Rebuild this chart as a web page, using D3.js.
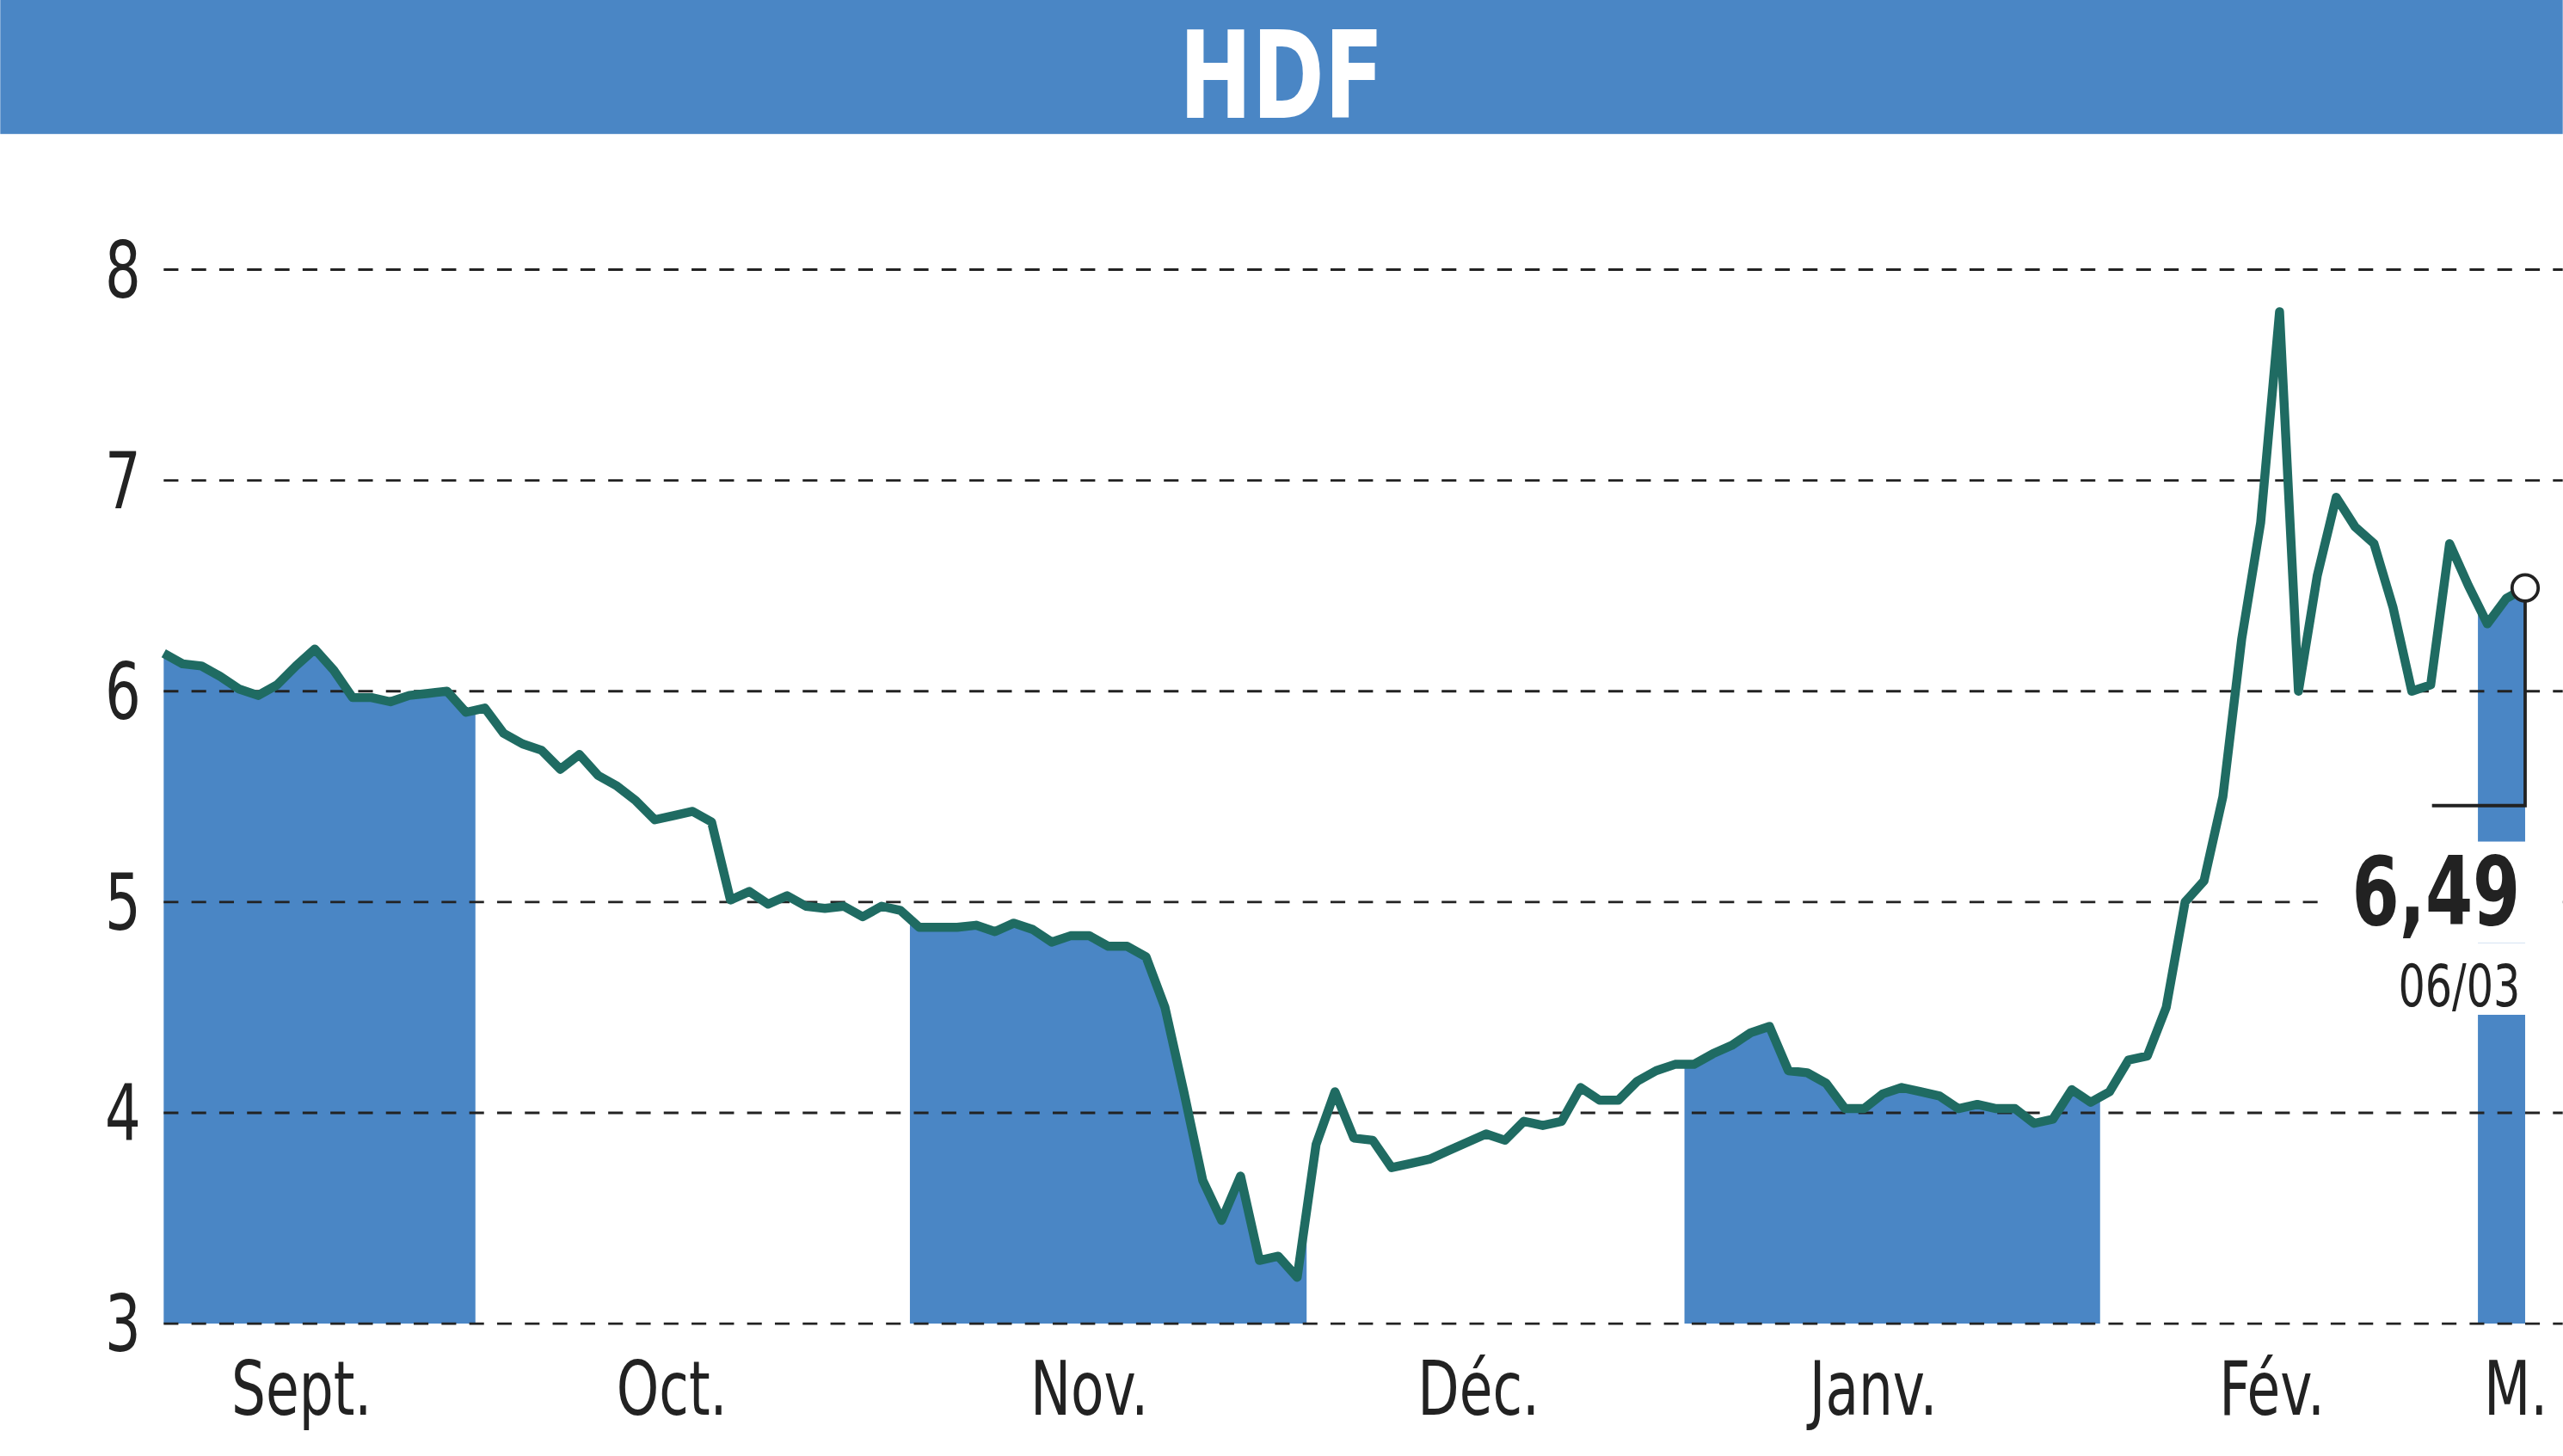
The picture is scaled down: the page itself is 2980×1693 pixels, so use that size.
<!DOCTYPE html>
<html><head><meta charset="utf-8">
<script src="https://cdn.jsdelivr.net/npm/d3@7"></script>
<style>body{margin:0;background:#fff}</style></head>
<body><svg id="c" width="2980" height="1693" viewBox="0 0 1568 891"></svg>
<script>
const title = "HDF";
const prices = [6.18,6.13,6.12,6.07,6.01,5.98,6.03,6.12,6.2,6.1,5.97,5.97,5.95,5.98,5.99,6.0,5.9,
5.92,5.8,5.75,5.72,5.63,5.7,5.6,5.55,5.48,5.39,5.41,5.43,5.38,5.01,5.05,4.99,5.03,4.98,4.97,4.98,4.93,4.98,4.96,
4.88,4.88,4.88,4.89,4.86,4.9,4.87,4.81,4.84,4.84,4.79,4.79,4.74,4.5,4.1,3.68,3.49,3.7,3.3,3.32,3.22,
3.85,4.1,3.88,3.87,3.74,3.76,3.78,3.82,3.86,3.9,3.87,3.96,3.94,3.96,4.12,4.06,4.06,4.15,4.2,4.23,
4.23,4.28,4.32,4.38,4.41,4.2,4.19,4.14,4.02,4.02,4.09,4.12,4.1,4.08,4.02,4.04,4.02,4.02,3.95,3.97,4.11,4.05,
4.1,4.25,4.27,4.5,5.0,5.1,5.5,6.25,6.8,7.8,6.0,6.55,6.92,6.78,6.7,6.4,6.0,6.03,6.7,6.5,6.32,6.44,6.49];
const months = ["Sept.","Oct.","Nov.","Déc.","Janv.","Fév.","M."];
const monthCenters = [7.3,26.9,49,69.6,90.5,111.6,124.5];
const bands = [[0,16.5],[39.5,60.5],[80.5,102.5],[122.5,125]];
const yTicks = [3,4,5,6,7,8];
const lastLabel = "6,49", lastDate = "06/03";

const svg = d3.select("#c");
const F = "'DejaVu Sans Condensed','Liberation Sans Narrow',sans-serif";
const blue = "#4a86c5", green = "#1f6b62";
const n = prices.length;
const x = d3.scaleLinear().domain([0,n-1]).range([100,1545]);
const y = d3.scaleLinear().domain([3,8]).range([810,165]);
const val = t => { const i=Math.floor(t), f=t-i; return i>=n-1?prices[n-1]:prices[i]+(prices[i+1]-prices[i])*f; };
const K = 0.8;
function txt(px,py,s,size,anchor,weight,fill){
  svg.append("text").attr("transform",`translate(${px},${py}) scale(${K},1)`).attr("text-anchor",anchor)
   .attr("font-family",F).attr("font-weight",weight||"normal").attr("font-size",size).attr("fill",fill||"#222").text(s);
}

svg.append("rect").attr("x",0).attr("y",0).attr("width",1568).attr("height",82).attr("fill",blue);
txt(784,72,title,74,"middle","bold","#fff");

const area = d3.area().x(d=>x(d)).y0(810).y1(d=>y(val(d)));
bands.forEach(b=>{
  const pts=[b[0]]; for(let i=Math.ceil(b[0]);i<b[1];i++) if(i>b[0]) pts.push(i); pts.push(b[1]);
  svg.append("path").attr("d",area(pts)).attr("fill",blue);
});

yTicks.forEach(t=>{
  svg.append("line").attr("x1",100).attr("x2",1568).attr("y1",y(t)).attr("y2",y(t))
    .attr("stroke","#222").attr("stroke-width",1.5).attr("stroke-dasharray","9,8");
  txt(86,y(t)+17,t,48,"end");
});
months.forEach((m,i)=> txt(x(monthCenters[i]),866,m,46,"middle"));

svg.append("path").datum(prices).attr("fill","none").attr("stroke",green).attr("stroke-width",5.5)
  .attr("stroke-linejoin","round").attr("d",d3.line().x((d,i)=>x(i)).y(d=>y(d)));

const lx = x(n-1), ly = y(prices[n-1]);
svg.append("rect").attr("x",1420).attr("y",515).attr("width",148).attr("height",62).attr("fill","#fff");
svg.append("rect").attr("x",1500).attr("y",577).attr("width",68).attr("height",44).attr("fill","#fff");
svg.append("path").attr("d",`M${lx},${ly} V493 H1488`).attr("fill","none").attr("stroke","#222").attr("stroke-width",2);
svg.append("circle").attr("cx",lx).attr("cy",ly).attr("r",8).attr("fill","#fff").attr("stroke","#222").attr("stroke-width",2);
txt(1542,566,lastLabel,58,"end","bold");
txt(1542,616,lastDate,36,"end");
</script></body></html>
